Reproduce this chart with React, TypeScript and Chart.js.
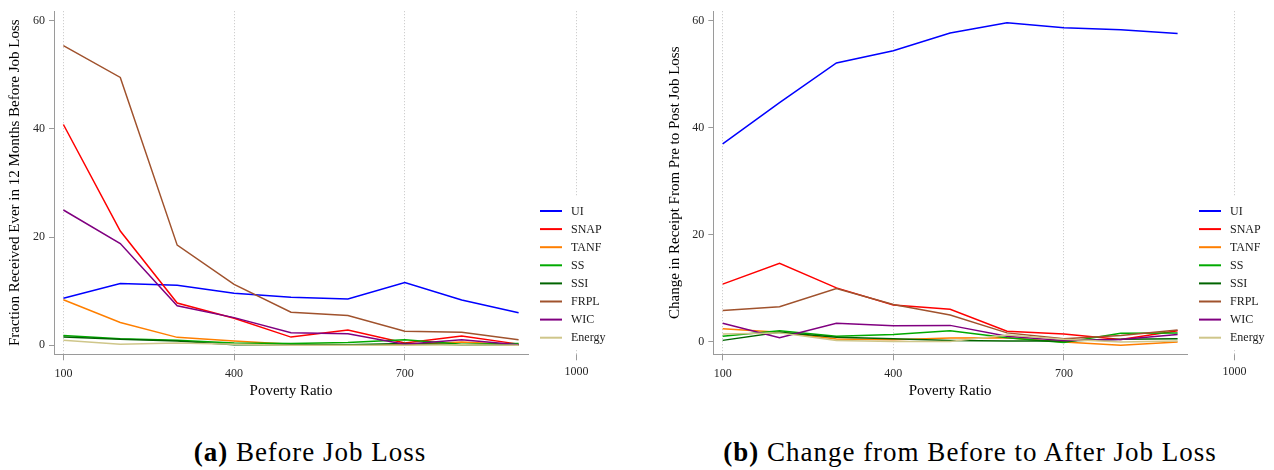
import React, { useEffect, useRef } from "react";
import { Chart, registerables } from "chart.js";

Chart.register(...registerables);

const FONT = "'Liberation Serif', 'Times New Roman', Times, serif";

// Poverty ratio (family income as % of the poverty line) for each point
const povertyRatio = [100, 200, 300, 400, 500, 600, 700, 800, 900];
const xTickValues = [100, 400, 700, 1000];
const yTickValues = [0, 20, 40, 60];

const programs = ["UI", "SNAP", "TANF", "SS", "SSI", "FRPL", "WIC", "Energy"];
const programColors = ["#0000ff", "#ff0000", "#ff7f00", "#00aa00", "#006400", "#a0522d", "#800080", "#cfc68a"];

// (a) Fraction receiving each program at any point in the 12 months before job loss
const beforeUI = [8.7, 11.4, 11.1, 9.6, 8.85, 8.55, 11.6, 8.35, 6.0];
const beforeSNAP = [40.8, 21.1, 7.8, 5.0, 1.5, 2.8, 0.4, 1.7, 0.2];
const beforeTANF = [8.4, 4.2, 1.45, 0.8, 0.2, 0.1, 0.1, 0.6, 0.1];
const beforeSS = [1.8, 1.2, 0.9, 0.4, 0.3, 0.5, 1.0, 0.2, 0.3];
const beforeSSI = [1.5, 1.1, 0.8, 0.1, 0.1, 0.1, 0.3, 0.1, 0.1];
const beforeFRPL = [55.4, 49.5, 18.5, 11.25, 6.1, 5.5, 2.6, 2.4, 1.0];
const beforeWIC = [25.0, 18.8, 7.3, 5.1, 2.3, 2.1, 0.2, 1.0, 0.1];
const beforeEnergy = [0.9, 0.2, 0.4, 0.2, 0.0, 0.0, 0.0, 0.1, 0.0];

// (b) Change in receipt from before to after job loss
const changeUI = [37.0, 44.7, 52.1, 54.4, 57.7, 59.6, 58.7, 58.3, 57.6];
const changeSNAP = [10.8, 14.7, 10.1, 6.9, 6.1, 2.0, 1.5, 0.45, 2.1];
const changeTANF = [2.45, 1.8, 0.55, 0.4, 0.75, 0.8, 0.0, -0.6, 0.0];
const changeSS = [1.05, 2.1, 1.05, 1.4, 2.1, 0.8, -0.1, 1.65, 1.7];
const changeSSI = [0.3, 1.8, 0.9, 0.6, 0.3, 0.2, 0.2, 0.5, 0.6];
const changeFRPL = [5.9, 6.6, 10.0, 7.0, 5.05, 1.7, 0.6, 1.2, 2.25];
const changeWIC = [3.5, 0.8, 3.5, 3.05, 3.1, 1.05, 0.3, 0.45, 1.4];
const changeEnergy = [1.5, 1.7, 0.3, 0.1, 0.1, 1.3, 0.5, 0.0, 0.2];

const beforeSeries = [beforeUI, beforeSNAP, beforeTANF, beforeSS, beforeSSI, beforeFRPL, beforeWIC, beforeEnergy];
const changeSeries = [changeUI, changeSNAP, changeTANF, changeSS, changeSSI, changeFRPL, changeWIC, changeEnergy];

const CANVAS_W = 637;
const CANVAS_H = 400;
const X_MIN = 83.5;
const X_MAX = 916.5;
const PLOT_TOP = 3;
const PLOT_BOTTOM = 354.3;
const AXIS_COLOR = "#9a9a9a";
const GRID_COLOR = "#c4c4c4";
const TICK_LABEL_COLOR = "#262626";
const X_TICK_LEN = 6;
const X_TICK_PAD = 6;

type PanelGeometry = {
  plotLeft: number;
  plotRight: number;
  yMin: number;
  yMax: number;
  yTitleX: number;
};

function makeExtras(g: PanelGeometry) {
  return {
    id: "panelExtras",
    afterDraw(chart: any) {
      const { ctx, chartArea } = chart;
      const xs = chart.scales.x;
      ctx.save();

      // x ticks that sit past the end of the axis line
      for (const v of xTickValues) {
        if (v <= xs.max) continue;
        const px = Math.round(xs.getPixelForValue(v)) + 0.5;
        ctx.strokeStyle = GRID_COLOR;
        ctx.lineWidth = 1;
        ctx.setLineDash([1, 2]);
        ctx.beginPath();
        ctx.moveTo(px, chartArea.top);
        ctx.lineTo(px, chartArea.bottom);
        ctx.stroke();
        ctx.setLineDash([]);
        ctx.strokeStyle = AXIS_COLOR;
        ctx.beginPath();
        ctx.moveTo(px, chartArea.bottom);
        ctx.lineTo(px, chartArea.bottom + X_TICK_LEN);
        ctx.stroke();
        ctx.fillStyle = TICK_LABEL_COLOR;
        ctx.font = `12px ${FONT}`;
        ctx.textAlign = "center";
        ctx.textBaseline = "top";
        ctx.fillText(String(v), px, chartArea.bottom + X_TICK_LEN + X_TICK_PAD);
      }

      // legend
      const lx = chartArea.right;
      ctx.fillStyle = "#ffffff";
      ctx.fillRect(lx + 6, 197, 86, 153);
      chart.data.datasets.forEach((ds: any, i: number) => {
        const y = 211 + i * 18.1;
        ctx.strokeStyle = ds.borderColor;
        ctx.lineWidth = 2;
        ctx.beginPath();
        ctx.moveTo(lx + 12, y);
        ctx.lineTo(lx + 34, y);
        ctx.stroke();
        ctx.fillStyle = "#1a1a1a";
        ctx.font = `12px ${FONT}`;
        ctx.textAlign = "left";
        ctx.textBaseline = "middle";
        ctx.fillText(ds.label, lx + 43, y + 0.5);
      });
      ctx.restore();
    },
  };
}

function Panel({ series, yTitle, geom, left }: { series: number[][]; yTitle: string; geom: PanelGeometry; left: number }) {
  const ref = useRef<HTMLCanvasElement | null>(null);

  useEffect(() => {
    const canvas = ref.current;
    if (!canvas) return;
    const chart = new Chart(canvas, {
      type: "line",
      data: {
        datasets: programs.map((name, i) => ({
          label: name,
          data: povertyRatio.map((x, j) => ({ x, y: series[i][j] })),
          borderColor: programColors[i],
          backgroundColor: programColors[i],
          borderWidth: 1.5,
          pointRadius: 0,
          tension: 0,
          fill: false,
          order: programs.length - i,
        })),
      },
      options: {
        animation: false,
        responsive: false,
        devicePixelRatio: 1,
        layout: { padding: { left: 0, top: PLOT_TOP, right: CANVAS_W - geom.plotRight, bottom: 0 } },
        plugins: { legend: { display: false }, tooltip: { enabled: false } },
        scales: {
          x: {
            type: "linear",
            min: X_MIN,
            max: X_MAX,
            afterBuildTicks: (s: any) => {
              s.ticks = xTickValues.filter((v) => v >= s.min && v <= s.max).map((value) => ({ value }));
            },
            afterFit: (s: any) => {
              s.height = CANVAS_H - PLOT_BOTTOM;
            },
            grid: {
              display: true,
              drawOnChartArea: true,
              color: GRID_COLOR,
              lineWidth: 1,
              drawTicks: true,
              tickLength: X_TICK_LEN,
              tickColor: AXIS_COLOR,
              tickWidth: 1,
              tickBorderDash: [],
            },
            border: { display: true, color: AXIS_COLOR, width: 1, dash: [1, 2] },
            ticks: {
              font: { family: FONT, size: 12 },
              color: TICK_LABEL_COLOR,
              padding: X_TICK_PAD,
              maxRotation: 0,
              callback: (v: any) => String(v),
            },
            title: {
              display: true,
              text: "Poverty Ratio",
              font: { family: FONT, size: 15 },
              color: "#000",
              padding: { top: 2, bottom: 0 },
            },
          },
          y: {
            type: "linear",
            min: geom.yMin,
            max: geom.yMax,
            afterBuildTicks: (s: any) => {
              s.ticks = yTickValues.map((value) => ({ value }));
            },
            afterFit: (s: any) => {
              s.width = geom.plotLeft;
            },
            grid: {
              display: true,
              drawOnChartArea: false,
              drawTicks: true,
              tickLength: 5,
              tickColor: AXIS_COLOR,
              tickWidth: 1,
            },
            border: { display: true, color: AXIS_COLOR, width: 1 },
            ticks: {
              font: { family: FONT, size: 12 },
              color: TICK_LABEL_COLOR,
              padding: 4,
              callback: (v: any) => String(v),
            },
            title: {
              display: true,
              text: yTitle,
              font: { family: FONT, size: 15 },
              color: "#000",
              padding: { top: geom.yTitleX - 9, bottom: 0 },
            },
          },
        },
      },
      plugins: [makeExtras(geom)],
    } as any);
    return () => chart.destroy();
  }, [series, yTitle, geom]);

  return (
    <canvas
      ref={ref}
      width={CANVAS_W}
      height={CANVAS_H}
      style={{ position: "absolute", left, top: 0, width: CANVAS_W, height: CANVAS_H }}
    />
  );
}

const geomA: PanelGeometry = { plotLeft: 54, plotRight: 528, yMin: -1.68, yMax: 61.75, yTitleX: 15 };
const geomB: PanelGeometry = { plotLeft: 76.3, plotRight: 550, yMin: -2.3, yMax: 61.77, yTitleX: 38 };

const captionStyle: React.CSSProperties = {
  position: "absolute",
  top: 436,
  width: 700,
  textAlign: "center",
  fontFamily: FONT,
  fontSize: 27,
  lineHeight: "32px",
  letterSpacing: "1px",
  color: "#000",
  whiteSpace: "nowrap",
};

export default function App() {
  return (
    <div style={{ position: "fixed", left: 0, top: 0, width: 1274, height: 470, background: "#fff", overflow: "hidden" }}>
      <Panel series={beforeSeries} yTitle="Fraction Received Ever in 12 Months Before Job Loss" geom={geomA} left={0} />
      <Panel series={changeSeries} yTitle="Change in Receipt From Pre to Post Job Loss" geom={geomB} left={637} />
      <div style={{ ...captionStyle, left: 310 - 350 }}>
        <b>(a)</b> Before Job Loss
      </div>
      <div style={{ ...captionStyle, left: 970 - 350 }}>
        <b>(b)</b> Change from Before to After Job Loss
      </div>
    </div>
  );
}
